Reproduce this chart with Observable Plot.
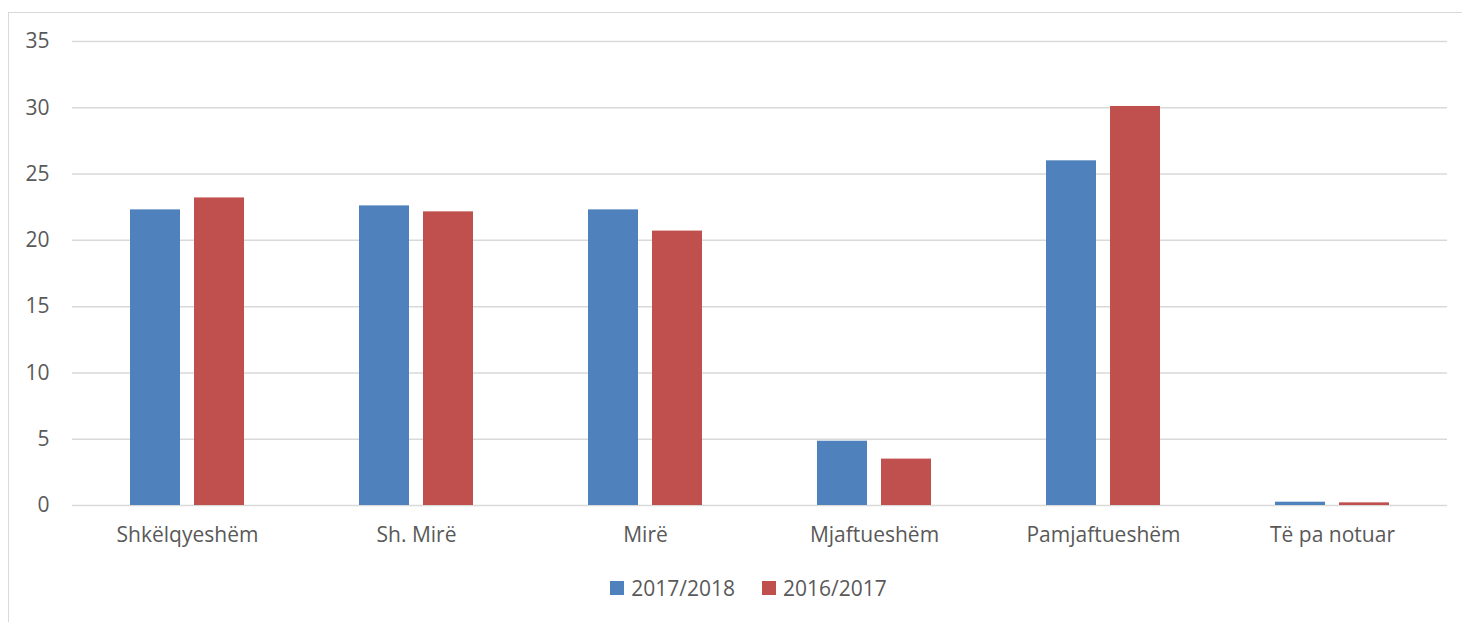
<!DOCTYPE html>
<html>
<head>
<meta charset="utf-8">
<script src="https://cdn.jsdelivr.net/npm/d3@7"></script>
<script src="https://cdn.jsdelivr.net/npm/@observablehq/plot@0.6"></script>
<style>
  html, body { margin: 0; padding: 0; background: #fff; }
  #wrap { position: relative; width: 1462px; height: 622px; overflow: hidden; font-family: "Open Sans", sans-serif; }
  #frame { position: absolute; left: 8px; top: 12px; right: -2px; bottom: -2px; border-top: 1.5px solid #d9d9d9; border-left: 1.5px solid #d9d9d9; }
  #grid { position: absolute; left: 0; top: 0; }
  #chart { position: absolute; left: 0; top: 0; }
  #legend { padding-top: 11px; }
  #legend .lg-swatch { margin-right: 27px; }
  #legend .lg-swatch > svg { margin-right: 7px; }
</style>
</head>
<body>
<div id="wrap">
  <div id="frame"></div>
  <div id="grid"></div>
  <div id="chart"></div>
</div>
<script>
const categories = ["Shkëlqyeshëm", "Sh. Mirë", "Mirë", "Mjaftueshëm", "Pamjaftueshëm", "Të pa notuar"];
const series = ["2017/2018", "2016/2017"];
const values2017_2018 = [22.3, 22.6, 22.3, 4.85, 26.0, 0.25];
const values2016_2017 = [23.2, 22.15, 20.7, 3.5, 30.1, 0.2];
const yTicks = [0, 5, 10, 15, 20, 25, 30, 35];
const colors = ["#4F81BD", "#C0504D"];

const data = [];
categories.forEach((c, i) => {
  data.push({category: c, series: series[0], value: values2017_2018[i]});
  data.push({category: c, series: series[1], value: values2016_2017[i]});
});

const common = {
  width: 1462,
  height: 560,
  marginLeft: 72,
  marginRight: 15,
  marginTop: 41,
  marginBottom: 55,
  style: {fontFamily: "Open Sans, sans-serif", fontSize: "21px", color: "#595959", background: "transparent"}
};

// Background: gridlines and y axis across the full plot width
const grid = Plot.plot({
  ...common,
  x: {domain: categories, axis: null},
  y: {domain: [0, 35], ticks: yTicks, label: null, tickSize: 0, tickPadding: 23},
  marks: [
    Plot.ruleY(yTicks, {y: d => d, stroke: "#d9d9d9", strokeWidth: 1.5})
  ]
});
document.getElementById("grid").appendChild(grid);

// Foreground: grouped bars and category labels
const chart = Plot.plot({
  ...common,
  fx: {domain: categories, paddingInner: 0.494, paddingOuter: 0.247, label: null, axis: "bottom", tickSize: 0, tickPadding: 22},
  x: {domain: series, paddingInner: 0.215, paddingOuter: 0, axis: null},
  y: {domain: [0, 35], axis: null},
  color: {domain: series, range: colors},
  marks: [
    Plot.barY(data, {fx: "category", x: "series", y: "value", fill: "series"})
  ]
});
document.getElementById("chart").appendChild(chart);

const legend = Plot.legend({
  color: {domain: series, range: colors},
  swatchSize: 14,
  className: "lg",
  style: {fontFamily: "Open Sans, sans-serif", fontSize: "21px", color: "#595959", justifyContent: "center", marginLeft: "62px"}
});
const lw = document.createElement("div");
lw.id = "legend";
lw.appendChild(legend);
document.getElementById("chart").appendChild(lw);
</script>
</body>
</html>
